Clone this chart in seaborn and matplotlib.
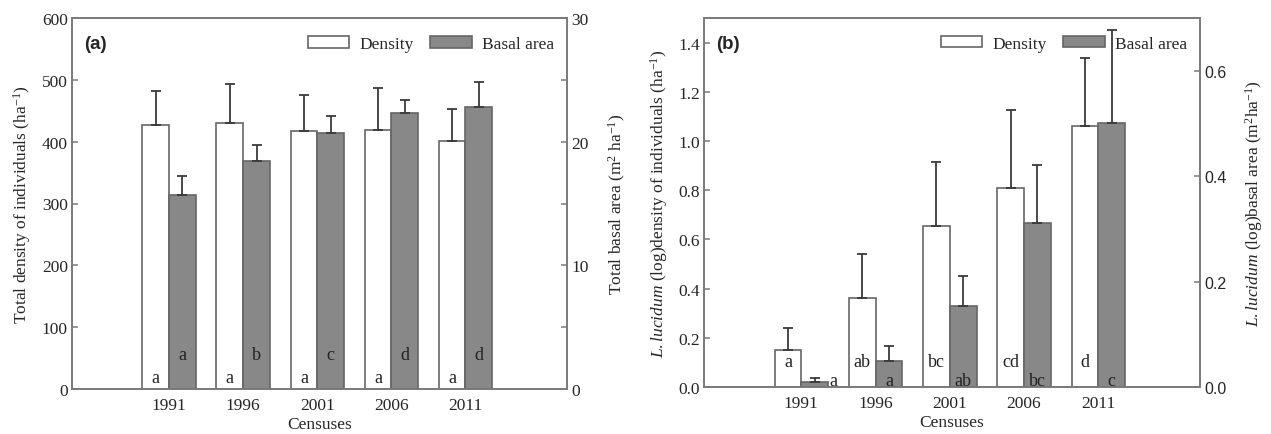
import numpy as np
import pandas as pd
import matplotlib
matplotlib.use("Agg")
import matplotlib.pyplot as plt
import seaborn as sns
from matplotlib.patches import Patch

# ---------------- data ----------------
years = ["1991", "1996", "2001", "2006", "2011"]
series = ["Density", "Basal area"]

a_density = [427, 430, 417, 419, 401]
a_density_err = [55, 63, 59, 68, 52]
a_basal = [15.7, 18.4, 20.7, 22.3, 22.8]
a_basal_err = [1.5, 1.3, 1.35, 1.1, 2.05]
a_density_letters = ["a", "a", "a", "a", "a"]
a_basal_letters = ["a", "b", "c", "d", "d"]

b_density = [0.152, 0.363, 0.654, 0.808, 1.062]
b_density_err = [0.087, 0.177, 0.261, 0.316, 0.274]
b_basal = [0.010, 0.050, 0.153, 0.312, 0.501]
b_basal_err = [0.007, 0.027, 0.058, 0.110, 0.176]
b_density_letters = ["a", "ab", "bc", "cd", "d"]
b_basal_letters = ["a", "a", "ab", "bc", "c"]

# ---------------- style ----------------
sns.set_theme(style="ticks")
plt.rcParams["font.family"] = ["Liberation Serif", "DejaVu Serif"]
plt.rcParams["mathtext.fontset"] = "custom"
plt.rcParams["mathtext.rm"] = "Liberation Serif"
plt.rcParams["mathtext.it"] = "Liberation Serif:italic"
plt.rcParams["mathtext.bf"] = "Liberation Serif:bold"

WHITE = "#ffffff"
GRAY = "#888888"
EDGE = "#666666"
SPINE = "#7a7a7a"
ERR = "#3a3a3a"
palette = {"Density": WHITE, "Basal area": GRAY}
FS = 12.5
LFS = 13


def long_frame(dens, basal, which):
    rows = []
    for i, y in enumerate(years):
        rows.append({"census": y, "series": "Density",
                     "value": dens[i] if which == "Density" else np.nan})
        rows.append({"census": y, "series": "Basal area",
                     "value": basal[i] if which == "Basal area" else np.nan})
    return pd.DataFrame(rows)


def drawn_bars(ax):
    ps = [p for p in ax.patches if np.isfinite(p.get_height()) and p.get_height() > 0]
    ps.sort(key=lambda p: p.get_x())
    return ps


def draw_panel(ax, dens, dens_err, basal, basal_err, dens_lab, basal_lab,
               ylim1, yticks1, ylim2, yticks2, yminor2, ylabel1, ylabel2,
               tag, right_sans, dens_off, basal_off, rpad, first_basal_right=False):
    ax2 = ax.twinx()
    sns.barplot(data=long_frame(dens, basal, "Density"), x="census", y="value",
                hue="series", hue_order=series, palette=palette, order=years,
                ax=ax, width=0.72, edgecolor=EDGE, linewidth=1.2,
                errorbar=None, legend=False, saturation=1)
    sns.barplot(data=long_frame(dens, basal, "Basal area"), x="census", y="value",
                hue="series", hue_order=series, palette=palette, order=years,
                ax=ax2, width=0.72, edgecolor=EDGE, linewidth=1.2,
                errorbar=None, legend=False, saturation=1)

    dpatches = drawn_bars(ax)
    bpatches = drawn_bars(ax2)
    dx = [p.get_x() + p.get_width() / 2 for p in dpatches]
    bx = [p.get_x() + p.get_width() / 2 for p in bpatches]

    ax.errorbar(dx, dens, yerr=[np.zeros(len(dens)), dens_err], fmt="none",
                ecolor=ERR, elinewidth=1.3, capsize=3.5, capthick=1.3, zorder=1)
    ax2.errorbar(bx, basal, yerr=[np.zeros(len(basal)), basal_err], fmt="none",
                 ecolor=ERR, elinewidth=1.3, capsize=3.5, capthick=1.3, zorder=1)

    for i, lab in enumerate(dens_lab):
        ax.annotate(lab, (dx[i], 0), xytext=(0, dens_off), textcoords="offset points",
                    ha="center", va="center", fontsize=LFS, color="#222222")
    for i, lab in enumerate(basal_lab):
        if first_basal_right and i == 0:
            p = bpatches[0]
            ax2.annotate(lab, (p.get_x() + p.get_width(), 0), xytext=(1, basal_off),
                         textcoords="offset points", ha="left", va="center",
                         fontsize=LFS, color="#222222")
        else:
            ax2.annotate(lab, (bx[i], 0), xytext=(0, basal_off), textcoords="offset points",
                         ha="center", va="center", fontsize=LFS, color="#222222")

    ax.set_xlim(-1.31, 5.37)
    ax.set_ylim(*ylim1)
    ax.set_yticks(yticks1)
    ax2.set_ylim(*ylim2)
    ax2.set_yticks(yminor2, minor=True)
    ax2.set_yticks(yticks2)

    ax.set_xlabel("Censuses", fontsize=FS, labelpad=2)
    ax.set_ylabel(ylabel1, fontsize=FS, labelpad=6)
    ax2.set_ylabel(ylabel2, fontsize=FS, labelpad=rpad)

    for a in (ax, ax2):
        for s in a.spines.values():
            s.set_visible(True)
            s.set_color(SPINE)
            s.set_linewidth(1.2)
        a.tick_params(axis="both", which="both", direction="in", length=4,
                      width=1.1, color=SPINE, labelsize=FS, pad=3)
    ax.tick_params(axis="x", length=0, pad=6)
    ax2.tick_params(axis="x", length=0)

    if right_sans:
        ax2.yaxis.set_major_formatter(matplotlib.ticker.FormatStrFormatter("%.1f"))
        ax.yaxis.set_major_formatter(matplotlib.ticker.FormatStrFormatter("%.1f"))
        for t in ax2.get_yticklabels():
            t.set_family(["Liberation Sans", "DejaVu Sans"])
            t.set_fontsize(11.5)

    ax.text(0.025, 0.955, tag, transform=ax.transAxes, ha="left", va="top",
            fontsize=13.5, fontweight="bold", family=["Liberation Sans", "DejaVu Sans"])

    handles = [Patch(facecolor=WHITE, edgecolor=EDGE, linewidth=1.2, label="Density"),
               Patch(facecolor=GRAY, edgecolor=EDGE, linewidth=1.2, label="Basal area")]
    ax2.legend(handles=handles, loc="upper right", bbox_to_anchor=(0.995, 0.98),
               ncol=2, frameon=False, fontsize=FS, handlelength=2.4,
               handleheight=0.65, columnspacing=0.9, handletextpad=0.6,
               borderaxespad=0.2)
    return ax2


fig = plt.figure(figsize=(12.71, 4.35), dpi=100)
axA = fig.add_axes([72 / 1271, 45 / 435, 495 / 1271, 371 / 435])
axB = fig.add_axes([704 / 1271, 47 / 435, 496 / 1271, 369 / 435])

draw_panel(axA, a_density, a_density_err, a_basal, a_basal_err,
           a_density_letters, a_basal_letters,
           (0, 600), [0, 100, 200, 300, 400, 500, 600],
           (0, 30), [0, 10, 20, 30], [5, 15, 25],
           "Total density of individuals (ha$^{-1}$)",
           "Total basal area (m$^{2}$ ha$^{-1}$)",
           "(a)", False, 8.5, 24.5, 13)

draw_panel(axB, b_density, b_density_err, b_basal, b_basal_err,
           b_density_letters, b_basal_letters,
           (0, 1.5), [0, 0.2, 0.4, 0.6, 0.8, 1.0, 1.2, 1.4],
           (0, 0.7), [0.0, 0.2, 0.4, 0.6], [],
           r"$\mathit{L.lucidum}$ (log)density of individuals (ha$^{-1}$)",
           r"$\mathit{L.lucidum}$ (log)basal area (m$^{2}$ha$^{-1}$)",
           "(b)", True, 18, 4.5, 12, first_basal_right=True)

fig.savefig("out.png", dpi=100)
